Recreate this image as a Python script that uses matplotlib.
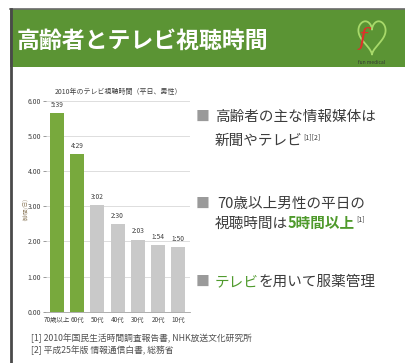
import numpy as np
import matplotlib
matplotlib.use("Agg")
from matplotlib import pyplot as plt
from matplotlib.patches import Rectangle

plt.rcParams['font.family'] = ['Noto Sans CJK JP', 'DejaVu Sans']

# data: 2010 TV viewing time, weekday, male (hours/day)
ages = ['70歳以上', '60代', '50代', '40代', '30代', '20代', '10代']
hours = [5.65, 4.48, 3.03, 2.50, 2.05, 1.90, 1.83]
value_labels = ['5:39', '4:29', '3:02', '2:30', '2:03', '1:54', '1:50']
highlight = [True, True, False, False, False, False, False]
yticks = [0, 1, 2, 3, 4, 5, 6]

GREEN_HEAD = '#5b9434'
GREEN_BAR = '#78a93d'
GRAY_BAR = '#c9c9c9'
TEXT = '#3c3c3c'
GREEN_TXT = '#4f9a2c'

fig = plt.figure(figsize=(4.05, 3.63), dpi=100)
fig.patch.set_facecolor('white')

# background axes in pixel coordinates
bg = fig.add_axes([0, 0, 1, 1], zorder=0)
bg.set_xlim(0, 405)
bg.set_ylim(363, 0)
bg.axis('off')

# header band and frame
bg.add_patch(Rectangle((10, 9), 400, 58, facecolor=GREEN_HEAD, edgecolor='none'))
bg.plot([10, 405], [9, 9], color='#6a6a6a', lw=1.2)
bg.plot([10.5, 10.5], [9, 363], color='#4a4a4a', lw=2.0)
bg.text(17, 41, '高齢者とテレビ視聴時間', color='white', fontsize=16.5,
        fontweight='bold', va='center', ha='left')

# logo: red "f" and green heart
t = np.linspace(0, 2 * np.pi, 200)
hx = 16 * np.sin(t) ** 3
hy = 13 * np.cos(t) - 5 * np.cos(2 * t) - 2 * np.cos(3 * t) - np.cos(4 * t)
bg.plot(372 + hx * 0.85, 35 - hy * 1.15, color='#a8d96a', lw=1.3)
bg.text(363, 38, 'f', color='#e0302a', fontsize=17, style='italic',
        ha='center', va='center', family='DejaVu Serif')
bg.text(372, 62, 'fun medical', color='#333333', fontsize=3.5,
        ha='center', va='center')

# bar chart
ax = fig.add_axes([46 / 405, 1 - 311.7 / 363, 144 / 405, 210.7 / 363], zorder=1)
ax.patch.set_alpha(0)
x = np.arange(len(ages))
colors = [GREEN_BAR if h else GRAY_BAR for h in highlight]
ax.bar(x, hours, width=0.69, color=colors, zorder=2)
for xi, v, lab in zip(x, hours, value_labels):
    ax.text(xi, v + 0.12, lab, ha='center', va='bottom', fontsize=4.8, color='#404040')
ax.set_xlim(-0.54, 6.57)
ax.set_ylim(0, 6)
ax.set_yticks(yticks)
ax.set_yticklabels(['%.2f' % v for v in yticks])
ax.set_xticks(x)
ax.set_xticklabels(ages)
ax.tick_params(axis='y', labelsize=5, colors='#8a8a8a', length=2.5, width=0.6,
               labelcolor='#404040', pad=1)
ax.tick_params(axis='x', labelsize=4.6, length=0, labelcolor='#404040', pad=3)
ax.grid(axis='y', color='#d8d8d8', lw=0.6, zorder=0)
for s in ['top', 'right', 'left']:
    ax.spines[s].set_visible(False)
ax.spines['bottom'].set_color('#a0a0a0')
ax.spines['bottom'].set_linewidth(0.6)
ax.set_title('2010年のテレビ視聴時間（平日、男性）', fontsize=5, color='#404040', pad=5,
             x=0.5)
ax.set_ylabel('（時間/日）', fontsize=4, color='#9a8a70', labelpad=2)

# bullet text on the right
def bullet(y):
    bg.text(196, y, '■', color='#9a9a9a', fontsize=10, va='center', ha='left')

fs = 10.5
bullet(117)
bg.text(215, 117, '高齢者の主な情報媒体は', fontsize=fs, color=TEXT, va='center')
t1 = bg.text(215, 141, '新聞やテレビ', fontsize=fs, color=TEXT, va='center')
bg.annotate('[1][2]', xy=(1, 0.5), xycoords=t1, xytext=(0.5, 0),
            textcoords='offset points', fontsize=5, color=TEXT, va='bottom')

bullet(204)
bg.text(217, 204, '70歳以上男性の平日の', fontsize=fs, color=TEXT, va='center')
t2 = bg.text(215, 224, '視聴時間は', fontsize=fs, color=TEXT, va='center')
t3 = bg.annotate('5時間以上', xy=(1, 0), xycoords=t2, fontsize=fs, color=GREEN_TXT,
                 fontweight='bold', va='bottom')
bg.annotate('[1]', xy=(1, 0.5), xycoords=t3, xytext=(0.5, 0),
            textcoords='offset points', fontsize=5, color=TEXT, va='bottom')

bullet(282)
t4 = bg.text(215, 282, 'テレビ', fontsize=fs, color=GREEN_TXT, va='center')
bg.annotate('を用いて服薬管理', xy=(1, 0), xycoords=t4, fontsize=fs, color=TEXT,
            va='bottom')

# footnotes
bg.text(31, 338, '[1] 2010年国民生活時間調査報告書, NHK放送文化研究所', fontsize=6.3,
        color='#505050', va='center')
bg.text(31, 350, '[2] 平成25年版 情報通信白書, 総務省', fontsize=6.3,
        color='#505050', va='center')

fig.savefig('out.png', dpi=100)
